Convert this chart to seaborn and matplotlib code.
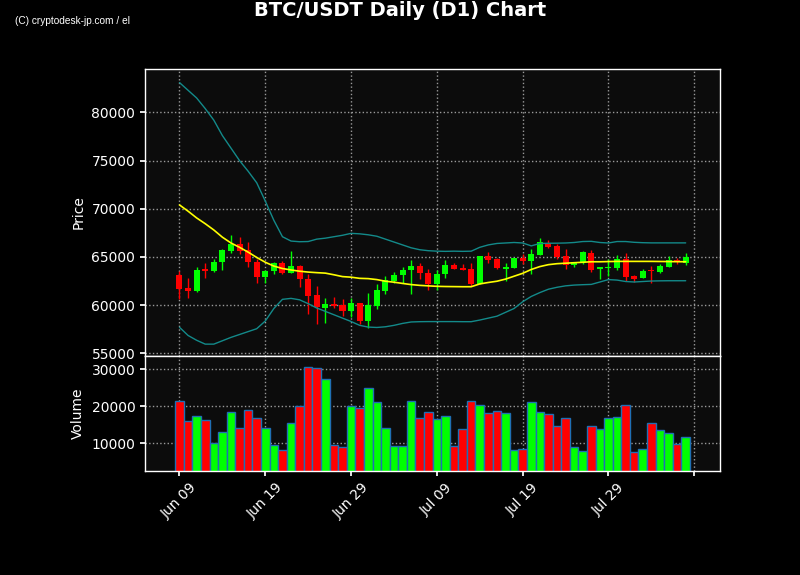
import numpy as np
import pandas as pd
import matplotlib
matplotlib.use("Agg")
import matplotlib.pyplot as plt
import seaborn as sns

# ---------------- data ----------------
start_date = "2024-06-09"

opens = [63160, 61740, 61420, 63720, 63510, 64440, 65660, 66350, 65760, 64510,
         62880, 63510, 64340, 63300, 64100, 62740, 61060, 59740, 60120, 60000,
         59390, 60240, 58390, 59900, 61470, 62520, 63110, 63640, 64090, 63310,
         62220, 63190, 64170, 63890, 63780, 62220, 65100, 64830, 63780, 63890,
         64930, 64580, 65210, 66490, 66150, 65140, 64170, 64440, 65420, 63750,
         63890, 63850, 64790, 62990, 62780, 63650, 63470, 63990, 64720, 64340]
highs = [63510, 62810, 63960, 64375, 64790, 65830, 67290, 67050, 66530, 64790,
         63650, 64510, 64620, 65660, 64170, 63230, 61990, 60720, 60880, 60650,
         60700, 60240, 61290, 62170, 63040, 63390, 63990, 64690, 64340, 63740,
         63610, 64650, 64410, 64300, 64410, 65100, 65560, 64930, 64340, 64930,
         65280, 65800, 67010, 66740, 66320, 65830, 64450, 65660, 65760, 63990,
         64790, 65210, 65420, 63130, 63750, 64100, 64270, 65070, 64860, 65420]
lows = [60620, 60730, 61400, 62810, 63400, 63650, 65380, 65310, 63920, 62290,
        62290, 63230, 63230, 63300, 61840, 59040, 57990, 58190, 59650, 58870,
        58740, 58040, 57620, 59550, 61190, 62340, 62340, 61190, 62690, 61540,
        61530, 62850, 63780, 63610, 61980, 62150, 64410, 63720, 62500, 63850,
        64240, 63190, 65210, 65970, 64760, 63750, 63920, 64270, 63470, 62710,
        63060, 63680, 62530, 62360, 62780, 62290, 63330, 63920, 64270, 64170]
closes = [61630, 61420, 63680, 63540, 64510, 65760, 66350, 65660, 64440, 62880,
          63580, 64340, 63300, 64100, 62710, 60960, 59770, 60120, 59900, 59390,
          60240, 58390, 60000, 61570, 62590, 63150, 63670, 64090, 63290, 62200,
          63190, 64130, 63780, 63650, 62220, 65100, 64690, 63820, 64000, 64930,
          64580, 65350, 66560, 66080, 65000, 64150, 64440, 65490, 63680, 63990,
          64000, 64790, 62880, 62710, 63580, 63540, 64100, 64720, 64440, 64970]
volumes = [21510, 16030, 17400, 16300, 10000, 13010, 18490, 14200, 19040, 16850,
           14110, 9450, 8080, 15480, 20140, 30550, 30270, 27260, 9450, 8900,
           20140, 19590, 25070, 21230, 14110, 9180, 9180, 21510, 16850, 18490,
           16580, 17400, 9180, 13840, 21510, 20410, 18220, 18770, 18220, 8080,
           8360, 21230, 18490, 17950, 14660, 16850, 8900, 7810, 14660, 13840,
           16850, 17120, 20410, 7530, 8360, 15480, 13560, 12740, 9730, 11640]
sma = [70400, 69750, 69050, 68450, 67800, 67050, 66450, 66000, 65500, 64950,
       64450, 64050, 63800, 63650, 63520, 63430, 63370, 63320, 63150, 62960,
       62900, 62780, 62750, 62650, 62480, 62380, 62250, 62130, 62050, 62000,
       61950, 61930, 61920, 61910, 61910, 62200, 62350, 62480, 62700, 63000,
       63300, 63700, 64000, 64200, 64300, 64350, 64400, 64450, 64500, 64500,
       64520, 64540, 64540, 64540, 64540, 64540, 64530, 64520, 64510, 64500]
upper = [83100, 82300, 81500, 80400, 79200, 77600, 76300, 75000, 73900, 72700,
         70800, 68800, 67100, 66650, 66580, 66600, 66850, 66950, 67100, 67250,
         67450, 67400, 67300, 67150, 66850, 66550, 66250, 65950, 65750, 65650,
         65600, 65580, 65600, 65580, 65600, 66000, 66250, 66400, 66450, 66500,
         66450, 66150, 66400, 66420, 66430, 66450, 66500, 66600, 66620, 66500,
         66450, 66600, 66600, 66520, 66480, 66460, 66460, 66460, 66460, 66460]
lower = [57700, 56850, 56350, 55950, 55950, 56300, 56650, 56950, 57250, 57550,
         58350, 59650, 60600, 60700, 60550, 60150, 59700, 59350, 59000, 58650,
         58300, 57900, 57720, 57680, 57750, 57900, 58100, 58250, 58280, 58290,
         58290, 58290, 58290, 58280, 58280, 58450, 58650, 58850, 59250, 59650,
         60350, 60900, 61300, 61650, 61850, 62000, 62080, 62120, 62150, 62400,
         62650, 62600, 62450, 62400, 62450, 62500, 62520, 62530, 62530, 62530]

tick_dates = ["2024-06-09", "2024-06-19", "2024-06-29", "2024-07-09",
              "2024-07-19", "2024-07-29", "2024-08-08"]
tick_labels = ["Jun 09", "Jun 19", "Jun 29", "Jul 09", "Jul 19", "Jul 29", ""]
price_ticks = [55000, 60000, 65000, 70000, 75000, 80000]
volume_ticks = [10000, 20000, 30000]

# ---------------- frame ----------------
dates = pd.date_range(start_date, periods=len(opens), freq="D")
df = pd.DataFrame({"date": dates, "open": opens, "high": highs, "low": lows,
                   "close": closes, "volume": volumes, "sma": sma,
                   "upper": upper, "lower": lower})
up = df["close"] >= df["open"]
colors = np.where(up, "#00ff00", "#ff0000")

# ---------------- style ----------------
sns.set_theme(style="ticks")
plt.rcParams.update({
    "font.family": ["DejaVu Sans"],
    "figure.facecolor": "black",
    "axes.facecolor": "#0c0c0c",
    "axes.edgecolor": "white",
    "axes.labelcolor": "white",
    "xtick.color": "white",
    "ytick.color": "white",
    "text.color": "white",
    "font.size": 10,
    "axes.labelsize": 10,
    "xtick.labelsize": 10,
    "ytick.labelsize": 10,
})

fig = plt.figure(figsize=(8, 5.75), dpi=100, facecolor="black")
ax1 = fig.add_axes([0.18125, 0.3809, 0.71875, 0.4991])
ax2 = fig.add_axes([0.18125, 0.1809, 0.71875, 0.2000], sharex=ax1)

for ax in (ax1, ax2):
    ax.set_facecolor("#0c0c0c")
    ax.grid(True, color="#9a9a9a", linestyle=":", linewidth=1, zorder=0)
    ax.set_axisbelow(True)
    for s in ax.spines.values():
        s.set_color("white")
        s.set_linewidth(1)

# candles
ax1.vlines(df["date"], df["low"], df["high"], colors=colors, linewidth=1, zorder=2)
body_h = (df["close"] - df["open"]).abs().clip(lower=60)
ax1.bar(df["date"], body_h, bottom=np.minimum(df["open"], df["close"]),
        width=0.7, color=colors, linewidth=0, zorder=2)

# SMA and Bollinger bands
sns.lineplot(data=df, x="date", y="upper", ax=ax1, color="#138a8a", linewidth=1, zorder=3)
sns.lineplot(data=df, x="date", y="lower", ax=ax1, color="#138a8a", linewidth=1, zorder=3)
sns.lineplot(data=df, x="date", y="sma", ax=ax1, color="#ffff00", linewidth=1.2, zorder=4)

# volume
ax2.bar(df["date"], df["volume"], width=1.0, color=colors,
        edgecolor="#1f6fb4", linewidth=1, zorder=2)

x0 = dates[0]
ax1.set_xlim(x0 - pd.Timedelta(days=4.02), x0 + pd.Timedelta(days=63.0))
ax1.set_ylim(54720, 84510)
ax2.set_ylim(2410, 33640)

ax1.set_yticks(price_ticks)
ax2.set_yticks(volume_ticks)
ax2.set_xticks(pd.to_datetime(tick_dates))
ax2.set_xticklabels(tick_labels, rotation=45)
ax1.tick_params(axis="x", bottom=False, labelbottom=False)
ax1.tick_params(axis="y", left=True, length=3.5, colors="white")
ax2.tick_params(axis="both", length=3.5, colors="white")

ax1.set_xlabel("")
ax1.set_ylabel("Price", color="white")
ax2.set_ylabel("Volume", color="white")
ax2.set_xlabel("")
ax1.yaxis.set_label_coords(-0.104, 0.5)
ax2.yaxis.set_label_coords(-0.104, 0.5)

fig.text(0.5, 1 - 11 / 575, "BTC/USDT Daily (D1) Chart", ha="center", va="center",
         fontsize=14, fontweight="bold", color="white")
fig.text(15 / 800, 1 - 21 / 575, "(C) cryptodesk-jp.com / el", ha="left", va="center",
         fontsize=7.3, color="white", family=["Liberation Sans Narrow", "Liberation Sans", "DejaVu Sans"])

fig.savefig("out.png", dpi=100, facecolor="black")
